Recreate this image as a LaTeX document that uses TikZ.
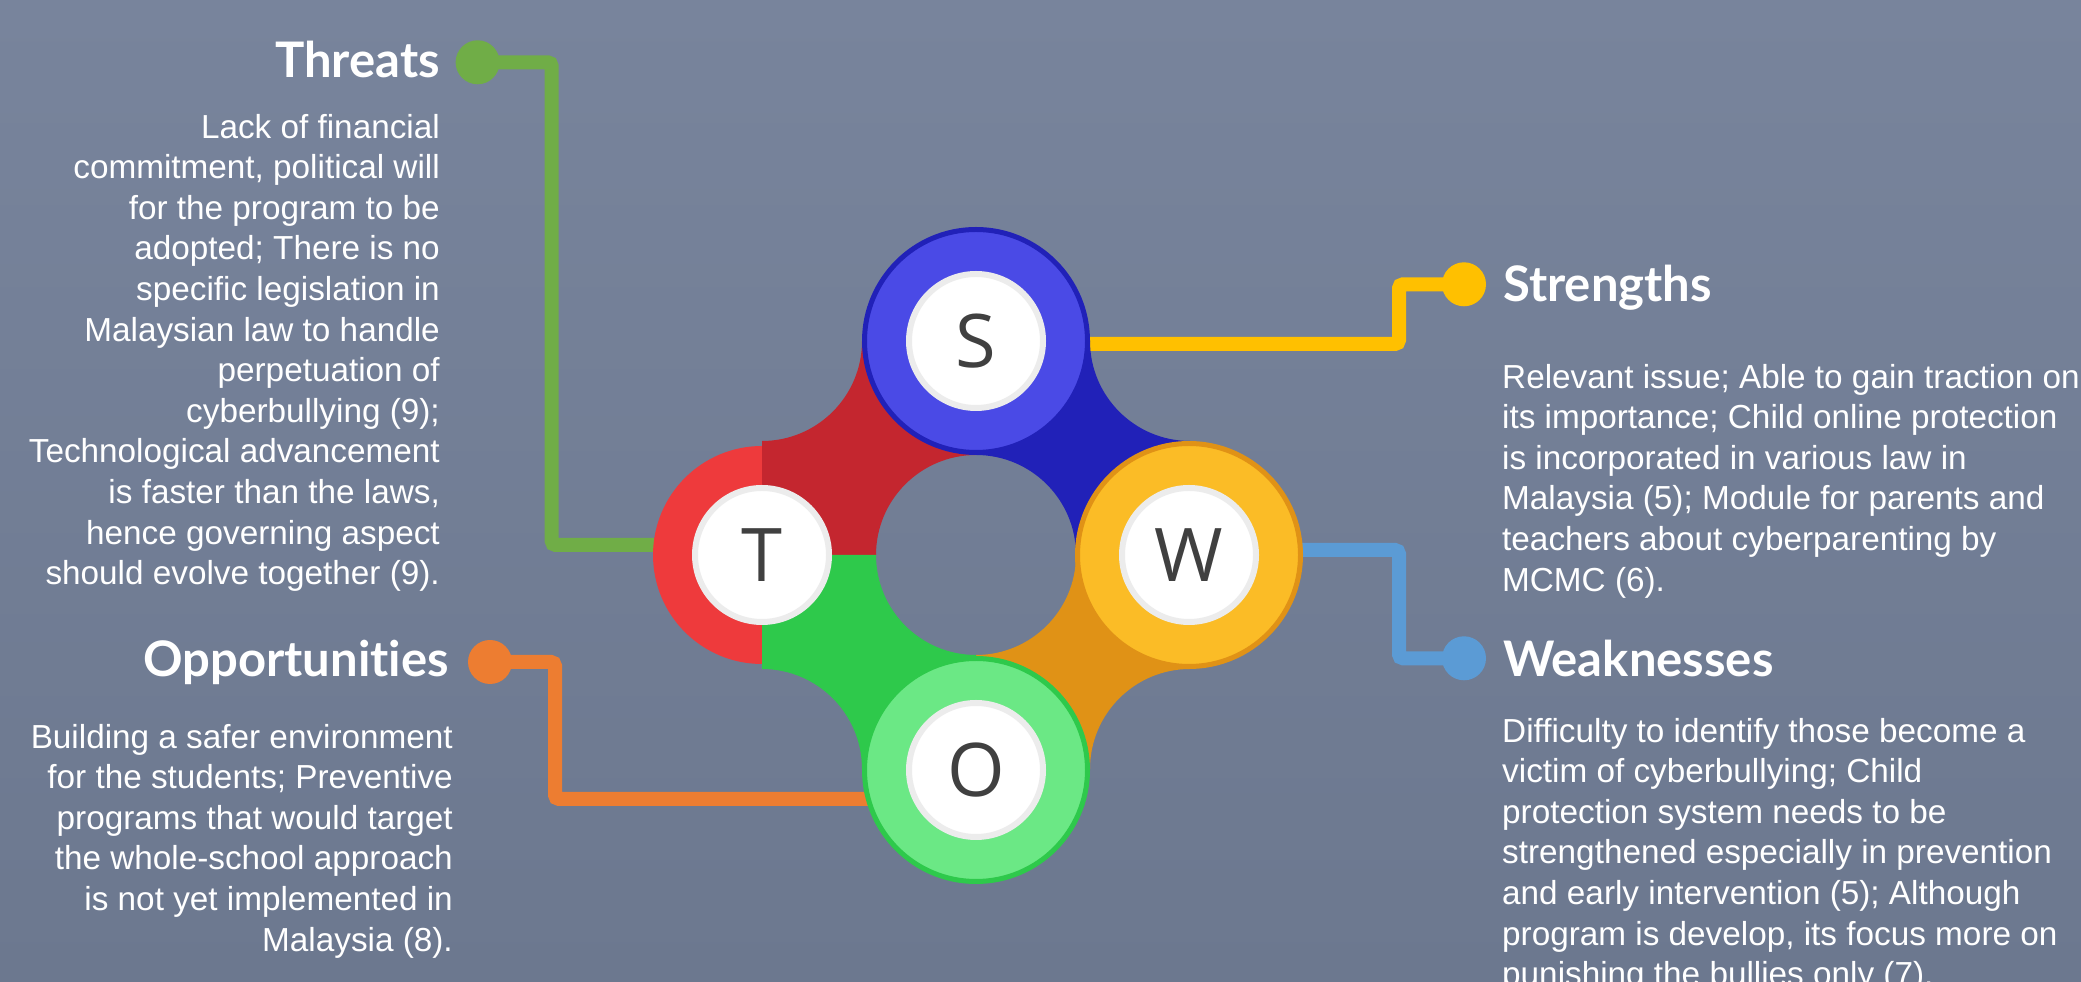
\documentclass[tikz,border=0pt]{standalone}
\usepackage{fontspec}
\setmainfont{Liberation Sans}
\newfontfamily\headfont{Lato}[Ligatures=CommonOff]
\newfontfamily\letterfont{Open Sans}
\definecolor{bgtop}{HTML}{78849C}
\definecolor{bgbot}{HTML}{6C788F}
\definecolor{cgreen}{HTML}{70AD47}
\definecolor{cyellow}{HTML}{FFC000}
\definecolor{cblue}{HTML}{5B9BD5}
\definecolor{corange}{HTML}{ED7D31}
\definecolor{sring}{HTML}{4A4AE6}
\definecolor{sdark}{HTML}{2121B8}
\definecolor{tring}{HTML}{EE3A3C}
\definecolor{tdark}{HTML}{C4262F}
\definecolor{wring}{HTML}{FBBC26}
\definecolor{wdark}{HTML}{E09216}
\definecolor{oring}{HTML}{6BE885}
\definecolor{odark}{HTML}{2EC94B}
\definecolor{wgray}{HTML}{ECECEC}
\definecolor{lettergray}{HTML}{404040}
\tikzset{
  band/.pic={\fill[pic actions] (-214,0) -- (-214,114) arc[start angle=270,end angle=360,radius=100]
      -- (0,214) -- (0,100) arc[start angle=90,end angle=180,radius=100] -- cycle;},
  ringnode/.style={circle, inner sep=0pt, minimum size=223pt, line width=5pt},
  innernode/.style={circle, inner sep=0pt, minimum size=134pt, fill=white, draw=wgray, line width=6pt,
      text=lettergray, font=\letterfont\fontsize{74}{80}\selectfont},
  dotnode/.style={circle, inner sep=0pt, minimum size=44pt},
  conn/.style={line width=14pt, rounded corners=4pt},
  head/.style={inner sep=0pt, text=white, font=\headfont\bfseries\fontsize{49}{55}\selectfont},
  body/.style={inner sep=0pt, text=white, font=\fontsize{33.3}{40.6}\selectfont}
}
\begin{document}
\begin{tikzpicture}[x=1pt,y=1pt]
\clip (0,0) rectangle (2081,982);
\shade[top color=bgtop,bottom color=bgbot] (0,0) rectangle (2081,982);

\coordinate (C) at (976,427);
% dots
\node[dotnode, fill=cgreen] (dT) at (477.6,919.7) {};
\node[dotnode, fill=corange] (dO) at (490,320) {};
\node[dotnode, fill=cyellow] (dS) at (1464,697.7) {};
\node[dotnode, fill=cblue] (dW) at (1464,323.7) {};
% circle anchors
\coordinate (S) at (976,641);
\coordinate (T) at (762,427);
\coordinate (W) at (1189,427);
\coordinate (O) at (976,212);
% connectors
\draw[conn, cgreen] (dT.center) -- (551.7,919.7) |- ([yshift=10pt]T);
\draw[conn, cyellow] (dS.center) -- (1399,697.7) |- ([yshift=-3pt]S);
\draw[conn, cblue] (dW.center) -- (1399,323.7) |- ([yshift=5pt]W);
\draw[conn, corange] (dO.center) -- (555,320) |- ([yshift=-29pt]O);
% T ring under the bands
\node[circle, inner sep=0pt, minimum size=218pt, fill=tring] (Tring) at (T) {};
% bands
\pic[fill=tdark] at (C) {band};
\pic[fill=sdark, rotate=-90] at (C) {band};
\pic[fill=wdark, rotate=-180] at (C) {band};
\pic[fill=odark, rotate=90] at (C) {band};
% rings on top
\node[ringnode, fill=sring, draw=sdark] (Sring) at (S) {};
\node[ringnode, fill=wring, draw=wdark] (Wring) at (W) {};
\node[ringnode, fill=oring, draw=odark] (Oring) at (O) {};
% inner letters
\node[innernode] (Sl) at (S) {S};
\node[innernode] (Tl) at (T) {T};
\node[innernode] (Wl) at (W) {W};
\node[innernode] (Ol) at (O) {O};
% headings
\node[head, anchor=base east] (hT) at (440,904) {Threats};
\node[head, anchor=base east] (hO) at (449,305) {Opportunities};
\node[head, anchor=base west] (hS) at (1503,680) {Strengths};
\node[head, anchor=base west] (hW) at (1503,305) {Weaknesses};
% bodies
\node[body, anchor=north east, align=right] (bT) at (440,870) {\rule{0pt}{26pt}Lack of financial\\
commitment, political will\\ for the program to be\\ adopted; There is no\\ specific legislation in\\
Malaysian law to handle\\ perpetuation of\\ cyberbullying (9);\\ Technological advancement\\
is faster than the laws,\\ hence governing aspect\\ should evolve together (9).};
\node[body, anchor=north east, align=right] (bO) at (453,260) {\rule{0pt}{26pt}Building a safer environment\\
for the students; Preventive\\ programs that would target\\ the whole-school approach\\
is not yet implemented in\\ Malaysia (8).};
\node[body, anchor=north west, align=left] (bS) at (1502,620) {\rule{0pt}{26pt}Relevant issue; Able to gain traction on\\
its importance; Child online protection\\ is incorporated in various law in\\
Malaysia (5); Module for parents and\\ teachers about cyberparenting by\\ MCMC (6).};
\node[body, anchor=north west, align=left] (bW) at (1502,266) {\rule{0pt}{26pt}Difficulty to identify those become a\\
victim of cyberbullying; Child\\ protection system needs to be\\ strengthened especially in prevention\\
and early intervention (5); Although\\ program is develop, its focus more on\\ punishing the bullies only (7).};
\end{tikzpicture}
\end{document}
